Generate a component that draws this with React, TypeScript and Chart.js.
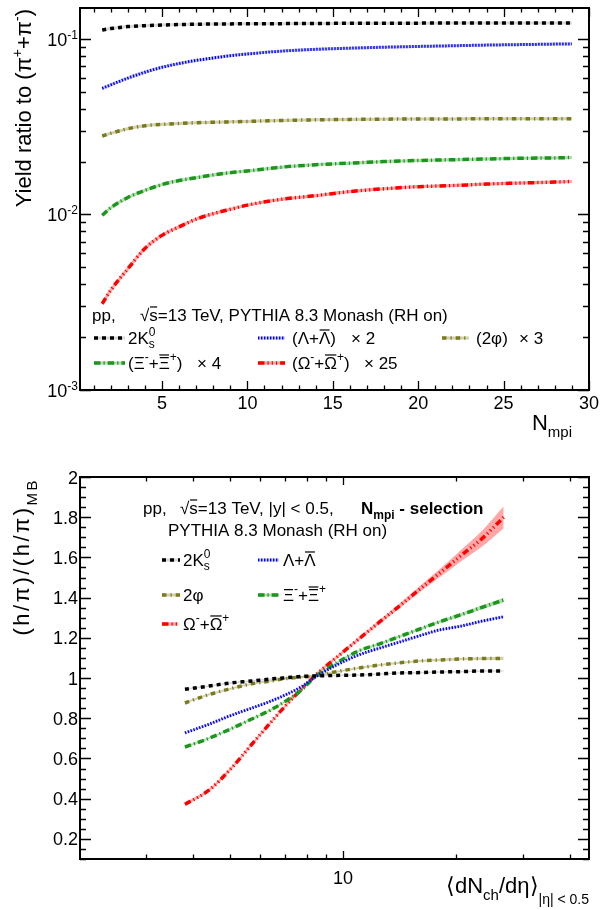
import React, { useEffect, useRef } from "react";
import { Chart, registerables } from "chart.js";

Chart.register(...registerables);

const FONT = '"Liberation Sans", Arial, Helvetica, sans-serif';

// ---------------- Top panel: yield ratio to (pi+ + pi-) vs N_mpi ----------------
const nMpi = [1.5, 2, 3, 4, 5, 6, 7, 8, 9, 10, 12, 14, 16, 18, 20, 22, 24, 26, 28, 29];
const k0Yield = [0.1125, 0.1145, 0.1175, 0.119, 0.12, 0.1207, 0.1212, 0.1216, 0.1218, 0.122, 0.1222, 0.1225, 0.1227, 0.1229, 0.123, 0.1231, 0.1232, 0.1233, 0.1234, 0.1234];
const lambdaYield = [0.0523, 0.0547, 0.0598, 0.0646, 0.0689, 0.0724, 0.0754, 0.0779, 0.0803, 0.0821, 0.0852, 0.0872, 0.0886, 0.0897, 0.0906, 0.0914, 0.0922, 0.0928, 0.0934, 0.0937];
const phiYield = [0.028, 0.029, 0.0308, 0.032, 0.0326, 0.033, 0.0333, 0.0335, 0.0337, 0.0339, 0.0343, 0.0346, 0.0348, 0.0349, 0.035, 0.035, 0.0351, 0.0351, 0.0351, 0.0351];
const xiYield = [0.0099, 0.0109, 0.0125, 0.0137, 0.0148, 0.0156, 0.0162, 0.0168, 0.0173, 0.0177, 0.0186, 0.0192, 0.0196, 0.02, 0.0203, 0.0205, 0.0207, 0.0209, 0.021, 0.0211];
const omegaYield = [0.0031, 0.0037, 0.0049, 0.0064, 0.0076, 0.0085, 0.0094, 0.0101, 0.0107, 0.0113, 0.0122, 0.0128, 0.0135, 0.014, 0.0144, 0.0146, 0.0149, 0.0151, 0.0153, 0.0154];

const topXTicks = [5, 10, 15, 20, 25, 30];
const topYDecades = [-3, -2, -1];

// ---------------- Bottom panel: double ratio vs <dNch/deta> ----------------
const dNchDeta = [3.8, 4.4, 5.0, 5.7, 6.4, 7.1, 7.8, 8.4, 9.5, 11, 12.5, 14, 16, 18, 20.5, 23.5, 26.7];
const k0Rel = [0.944, 0.96, 0.975, 0.985, 0.995, 1.002, 1.008, 1.01, 1.013, 1.015, 1.02, 1.025, 1.027, 1.03, 1.032, 1.035, 1.035];
const phiRel = [0.876, 0.918, 0.946, 0.971, 0.985, 0.998, 1.005, 1.01, 1.03, 1.05, 1.065, 1.075, 1.085, 1.09, 1.095, 1.097, 1.098];
const lambdaRel = [0.727, 0.77, 0.812, 0.85, 0.884, 0.92, 0.96, 1.003, 1.06, 1.115, 1.149, 1.177, 1.211, 1.239, 1.258, 1.284, 1.305];
const xiRel = [0.657, 0.7, 0.745, 0.795, 0.84, 0.89, 0.945, 1.005, 1.07, 1.135, 1.17, 1.204, 1.244, 1.279, 1.314, 1.353, 1.388];
const omegaRel = [0.372, 0.442, 0.543, 0.667, 0.776, 0.871, 0.95, 1.01, 1.095, 1.194, 1.279, 1.353, 1.443, 1.52, 1.607, 1.697, 1.8];
const k0RelErr = [0.004, 0.004, 0.004, 0.004, 0.004, 0.004, 0.004, 0.004, 0.004, 0.004, 0.004, 0.004, 0.004, 0.004, 0.004, 0.004, 0.004];
const phiRelErr = [0.005, 0.005, 0.005, 0.005, 0.005, 0.005, 0.005, 0.005, 0.005, 0.005, 0.005, 0.005, 0.005, 0.006, 0.006, 0.007, 0.008];
const lambdaRelErr = [0.004, 0.004, 0.004, 0.004, 0.004, 0.004, 0.004, 0.004, 0.004, 0.004, 0.004, 0.004, 0.004, 0.004, 0.005, 0.005, 0.005];
const xiRelErr = [0.005, 0.005, 0.005, 0.005, 0.005, 0.005, 0.005, 0.005, 0.005, 0.005, 0.005, 0.006, 0.006, 0.007, 0.008, 0.01, 0.012];
const omegaRelErr = [0.008, 0.008, 0.008, 0.008, 0.008, 0.008, 0.008, 0.008, 0.008, 0.009, 0.01, 0.012, 0.015, 0.02, 0.028, 0.04, 0.055];

const botYTicks = [0.2, 0.4, 0.6, 0.8, 1, 1.2, 1.4, 1.6, 1.8, 2];
const botYTickLabels = ["0.2", "0.4", "0.6", "0.8", "1", "1.2", "1.4", "1.6", "1.8", "2"];
const botXTicks = [10];
const botXTickLabels = ["10"];

// ---------------- styles ----------------
type Sty = { color: string; band: string; dash: number[]; width: number };
const STY: Record<string, Sty> = {
  k0: { color: "#000000", band: "rgba(0,0,0,0.15)", dash: [4, 4], width: 3.5 },
  lam: { color: "#0000ff", band: "rgba(0,0,255,0.22)", dash: [1.4, 1.6], width: 3 },
  phi: { color: "#7b7b1e", band: "rgba(123,123,30,0.35)", dash: [4.5, 4, 1.2, 4], width: 3.5 },
  xi: { color: "#1b981b", band: "rgba(27,152,27,0.35)", dash: [6.5, 3, 1.2, 3], width: 3.5 },
  om: { color: "#ff0000", band: "rgba(255,0,0,0.35)", dash: [6.5, 3, 1.2, 3, 1.2, 3, 1.2, 3], width: 3.5 },
};

const xy = (xs: number[], ys: number[]) => xs.map((x, i) => ({ x, y: ys[i] }));

type Part = { t: string; s?: number; dy?: number; b?: boolean; bar?: boolean; na?: boolean; dx?: number };

function drawParts(
  ctx: CanvasRenderingContext2D,
  parts: Part[],
  x: number,
  y: number,
  base: number,
  align: "left" | "right" | "center" = "left",
  spacing = 0
) {
  const fontOf = (p: Part) => `${p.b ? "bold " : ""}${p.s ?? base}px ${FONT}`;
  const ws = parts.map((p) => {
    ctx.font = fontOf(p);
    return ctx.measureText(p.t).width + spacing * [...p.t].length;
  });
  let total = 0;
  parts.forEach((p, i) => {
    total += (p.dx ?? 0) + (p.na ? 0 : ws[i]);
  });
  let cx = align === "left" ? x : align === "right" ? x - total : x - total / 2;
  ctx.textAlign = "left";
  ctx.textBaseline = "alphabetic";
  parts.forEach((p, i) => {
    const size = p.s ?? base;
    ctx.font = fontOf(p);
    cx += p.dx ?? 0;
    const yy = y + (p.dy ?? 0);
    if (spacing) {
      let xx = cx;
      for (const ch of [...p.t]) {
        ctx.fillText(ch, xx, yy);
        xx += ctx.measureText(ch).width + spacing;
      }
    } else ctx.fillText(p.t, cx, yy);
    if (p.bar) ctx.fillRect(cx + size * 0.04, yy - size * 0.86, ws[i] - size * 0.08, Math.max(1.2, size * 0.07));
    if (!p.na) cx += ws[i];
  });
  return total;
}

function sample(ctx: CanvasRenderingContext2D, x1: number, x2: number, y: number, s: Sty) {
  ctx.save();
  ctx.strokeStyle = s.band;
  ctx.lineWidth = 3;
  ctx.setLineDash([]);
  ctx.beginPath();
  ctx.moveTo(x1, y);
  ctx.lineTo(x2, y);
  ctx.stroke();
  ctx.strokeStyle = s.color;
  ctx.lineWidth = s.width;
  ctx.setLineDash(s.dash);
  ctx.beginPath();
  ctx.moveTo(x1, y);
  ctx.lineTo(x2, y);
  ctx.stroke();
  ctx.restore();
}

const SUP = (t: string): Part => ({ t, s: 12, dy: -8 });

// ---------------- Top decorations ----------------
const topDecor = {
  id: "topDecor",
  afterDraw(chart: any) {
    const ctx: CanvasRenderingContext2D = chart.ctx;
    const { left, right, top, bottom } = chart.chartArea;
    const xs = chart.scales.x;
    const ys = chart.scales.y;
    ctx.save();
    ctx.strokeStyle = "#000";
    ctx.fillStyle = "#000";
    ctx.lineWidth = 1.3;
    ctx.setLineDash([]);
    ctx.beginPath();
    for (let v = 1; v <= 30; v++) {
      const px = Math.round(xs.getPixelForValue(v)) + 0.5;
      const len = topXTicks.includes(v) ? 9 : 4.5;
      ctx.moveTo(px, bottom);
      ctx.lineTo(px, bottom - len);
      ctx.moveTo(px, top);
      ctx.lineTo(px, top + len);
    }
    for (let d = -3; d <= -1; d++)
      for (let k = 1; k <= 9; k++) {
        const v = k * Math.pow(10, d);
        if (v < ys.min * 0.999 || v > ys.max) continue;
        const py = Math.round(ys.getPixelForValue(v)) + 0.5;
        const len = k === 1 ? 11 : 6;
        ctx.moveTo(left, py);
        ctx.lineTo(left + len, py);
        ctx.moveTo(right, py);
        ctx.lineTo(right - len, py);
      }
    ctx.stroke();
    ctx.lineWidth = 2;
    ctx.strokeRect(left, top, right - left, bottom - top);

    // tick labels
    for (const v of topXTicks) {
      drawParts(ctx, [{ t: String(v) }], xs.getPixelForValue(v), bottom + 19, 18, "center");
    }
    for (const d of topYDecades) {
      const py = ys.getPixelForValue(Math.pow(10, d));
      drawParts(ctx, [{ t: "10" }, { t: "-" + String(-d), s: 12, dy: -7 }], 78, py + 7, 18, "right");
    }

    // axis titles
    drawParts(ctx, [{ t: "N" }, { t: "mpi", s: 15, dy: 7 }], 572, 430, 22, "right");
    ctx.save();
    ctx.translate(31, 9);
    ctx.rotate(-Math.PI / 2);
    drawParts(
      ctx,
      [{ t: "Yield ratio to (" }, { t: "π" }, { t: "+", s: 14, dy: -9 }, { t: "+" }, { t: "π" }, { t: "-", s: 14, dy: -9 }, { t: ")" }],
      0,
      0,
      22,
      "right"
    );
    ctx.restore();

    // legend
    const F = 17;
    drawParts(ctx, [{ t: "pp," }], 92, 321, F);
    drawParts(ctx, [{ t: "√" }, { t: "s", bar: true }, { t: "=13 TeV, PYTHIA 8.3 Monash (RH on)" }], 140, 321, F);

    sample(ctx, 94, 125, 338, STY.k0);
    drawParts(ctx, [{ t: "2K" }, { t: "0", s: 12, dy: -8, na: true }, { t: "s", s: 12, dy: 4 }], 128, 344, F);
    sample(ctx, 258, 285, 338, STY.lam);
    drawParts(ctx, [{ t: "(Λ+" }, { t: "Λ", bar: true }, { t: ")" }], 292, 344, F);
    drawParts(ctx, [{ t: "× 2" }], 351, 344, F);
    sample(ctx, 442, 469, 338, STY.phi);
    drawParts(ctx, [{ t: "(2φ)" }], 476, 344, F);
    drawParts(ctx, [{ t: "× 3" }], 519, 344, F);

    sample(ctx, 94, 125, 363, STY.xi);
    drawParts(ctx, [{ t: "(Ξ" }, SUP("-"), { t: "+" }, { t: "Ξ", bar: true }, SUP("+"), { t: ")" }], 128, 369, F);
    drawParts(ctx, [{ t: "× 4" }], 197, 369, F);
    sample(ctx, 258, 285, 363, STY.om);
    drawParts(ctx, [{ t: "(Ω" }, SUP("-"), { t: "+" }, { t: "Ω", bar: true }, SUP("+"), { t: ")" }], 292, 369, F);
    drawParts(ctx, [{ t: "× 25" }], 364, 369, F);
    ctx.restore();
  },
};

// ---------------- Bottom decorations ----------------
const OFF = 450;
const botDecor = {
  id: "botDecor",
  afterDraw(chart: any) {
    const ctx: CanvasRenderingContext2D = chart.ctx;
    const { left, right, top, bottom } = chart.chartArea;
    const xs = chart.scales.x;
    const ys = chart.scales.y;
    const Y = (v: number) => v - OFF;
    ctx.save();
    ctx.strokeStyle = "#000";
    ctx.fillStyle = "#000";
    ctx.lineWidth = 1.3;
    ctx.setLineDash([]);
    ctx.beginPath();
    for (let d = 0; d <= 1; d++)
      for (let k = 1; k <= 9; k++) {
        const v = k * Math.pow(10, d);
        if (v <= xs.min || v >= xs.max) continue;
        const px = Math.round(xs.getPixelForValue(v)) + 0.5;
        const len = botXTicks.includes(v) ? 8 : 4.5;
        ctx.moveTo(px, bottom);
        ctx.lineTo(px, bottom - len);
        ctx.moveTo(px, top);
        ctx.lineTo(px, top + len);
      }
    for (let i = 2; i <= 40; i++) {
      const v = i * 0.05;
      const py = Math.round(ys.getPixelForValue(v)) + 0.5;
      const major = i % 4 === 0;
      const len = major ? 11 : 6;
      ctx.moveTo(left, py);
      ctx.lineTo(left + len, py);
      ctx.moveTo(right, py);
      ctx.lineTo(right - len, py);
    }
    ctx.stroke();
    ctx.lineWidth = 2;
    ctx.strokeRect(left, top, right - left, bottom - top);

    botYTicks.forEach((v, i) => {
      drawParts(ctx, [{ t: botYTickLabels[i] }], 78, ys.getPixelForValue(v) + 6.5, 18, "right");
    });
    botXTicks.forEach((v, i) => {
      drawParts(ctx, [{ t: botXTickLabels[i] }], xs.getPixelForValue(v), Y(884), 18, "center");
    });

    // x title
    drawParts(
      ctx,
      [{ t: "⟨dN" }, { t: "ch", s: 15, dy: 7 }, { t: "/dη⟩" }, { t: "|η| < 0.5", s: 14, dy: 11 }],
      589,
      Y(893),
      22,
      "right"
    );
    // y title
    ctx.save();
    ctx.translate(29, Y(478));
    ctx.rotate(-Math.PI / 2);
    drawParts(ctx, [{ t: "(h/π)/(h/π)" }, { t: "MB", s: 15, dy: 8 }], 0, 0, 22, "right", 2.5);
    ctx.restore();

    // legend
    const F = 17;
    drawParts(ctx, [{ t: "pp," }], 143, Y(514), F);
    drawParts(ctx, [{ t: "√" }, { t: "s", bar: true }, { t: "=13 TeV, |y| < 0.5," }], 180, Y(514), F);
    drawParts(ctx, [{ t: "N", b: true }, { t: "mpi", b: true, s: 12, dy: 5 }, { t: " - selection", b: true }], 361, Y(514), F);
    drawParts(ctx, [{ t: "PYTHIA 8.3 Monash (RH on)" }], 168, Y(536), F);

    sample(ctx, 162, 180, Y(560), STY.k0);
    drawParts(ctx, [{ t: "2K" }, { t: "0", s: 12, dy: -8, na: true }, { t: "s", s: 12, dy: 4 }], 183, Y(566), F);
    sample(ctx, 258, 279, Y(560), STY.lam);
    drawParts(ctx, [{ t: "Λ+" }, { t: "Λ", bar: true }], 283, Y(566), F);

    sample(ctx, 162, 180, Y(595), STY.phi);
    drawParts(ctx, [{ t: "2φ" }], 183, Y(601), F);
    sample(ctx, 258, 279, Y(595), STY.xi);
    drawParts(ctx, [{ t: "Ξ" }, SUP("-"), { t: "+" }, { t: "Ξ", bar: true }, SUP("+")], 283, Y(601), F);

    sample(ctx, 162, 178, Y(624), STY.om);
    drawParts(ctx, [{ t: "Ω" }, SUP("-"), { t: "+" }, { t: "Ω", bar: true }, SUP("+")], 183, Y(630), F);
    ctx.restore();
  },
};

function lineDs(data: { x: number; y: number }[], s: Sty) {
  return {
    data,
    borderColor: s.color,
    backgroundColor: s.color,
    borderWidth: s.width,
    borderDash: s.dash,
    borderCapStyle: "butt",
    pointRadius: 0,
    fill: false,
    cubicInterpolationMode: "monotone",
  };
}

function topConfig(): any {
  const series: [number[], Sty][] = [
    [k0Yield, STY.k0],
    [lambdaYield, STY.lam],
    [phiYield, STY.phi],
    [xiYield, STY.xi],
    [omegaYield, STY.om],
  ];
  return {
    type: "line",
    data: {
      datasets: [
        ...series.map(([d, s]) => lineDs(xy(nMpi, d), s)),
        ...series.map(([d, s]) => ({
          data: xy(nMpi, d),
          borderColor: s.band,
          borderWidth: 3,
          pointRadius: 0,
          fill: false,
          cubicInterpolationMode: "monotone",
        })),
      ],
    },
    options: {
      animation: false,
      responsive: false,
      devicePixelRatio: 1,
      layout: { padding: { left: 80, right: 23, top: 8, bottom: 60 } },
      scales: {
        x: { type: "linear", min: 0.2, max: 30, display: false },
        y: { type: "logarithmic", min: 0.001, max: 0.15, display: false },
      },
      plugins: { legend: { display: false }, tooltip: { enabled: false } },
    },
    plugins: [topDecor],
  };
}

function bottomConfig(): any {
  const series: [number[], number[], Sty][] = [
    [k0Rel, k0RelErr, STY.k0],
    [lambdaRel, lambdaRelErr, STY.lam],
    [phiRel, phiRelErr, STY.phi],
    [xiRel, xiRelErr, STY.xi],
    [omegaRel, omegaRelErr, STY.om],
  ];
  const bands: any[] = [];
  series.forEach(([d, e, s]) => {
    bands.push({
      data: xy(dNchDeta, d.map((v, i) => v - e[i])),
      borderWidth: 0,
      borderColor: "rgba(0,0,0,0)",
      pointRadius: 0,
      fill: false,
      cubicInterpolationMode: "monotone",
    });
    bands.push({
      data: xy(dNchDeta, d.map((v, i) => v + e[i])),
      borderWidth: 0,
      borderColor: "rgba(0,0,0,0)",
      backgroundColor: s.band,
      pointRadius: 0,
      fill: "-1",
      cubicInterpolationMode: "monotone",
    });
  });
  return {
    type: "line",
    data: {
      datasets: [...series.map(([d, , s]) => lineDs(xy(dNchDeta, d), s)), ...bands],
    },
    options: {
      animation: false,
      responsive: false,
      devicePixelRatio: 1,
      layout: { padding: { left: 80, right: 23, top: 27, bottom: 51 } },
      scales: {
        x: { type: "logarithmic", min: 2, max: 45, display: false },
        y: { type: "linear", min: 0.1, max: 2, display: false },
      },
      plugins: { legend: { display: false }, tooltip: { enabled: false } },
    },
    plugins: [botDecor],
  };
}

export default function App() {
  const topRef = useRef<HTMLCanvasElement>(null);
  const botRef = useRef<HTMLCanvasElement>(null);
  useEffect(() => {
    const c1 = new Chart(topRef.current!, topConfig());
    const c2 = new Chart(botRef.current!, bottomConfig());
    return () => {
      c1.destroy();
      c2.destroy();
    };
  }, []);
  return (
    <div style={{ position: "absolute", left: 0, top: 0, width: 612, height: 910, background: "#fff" }}>
      <canvas ref={topRef} width={612} height={450} style={{ position: "absolute", left: 0, top: 0, width: 612, height: 450 }} />
      <canvas ref={botRef} width={612} height={460} style={{ position: "absolute", left: 0, top: 450, width: 612, height: 460 }} />
    </div>
  );
}
